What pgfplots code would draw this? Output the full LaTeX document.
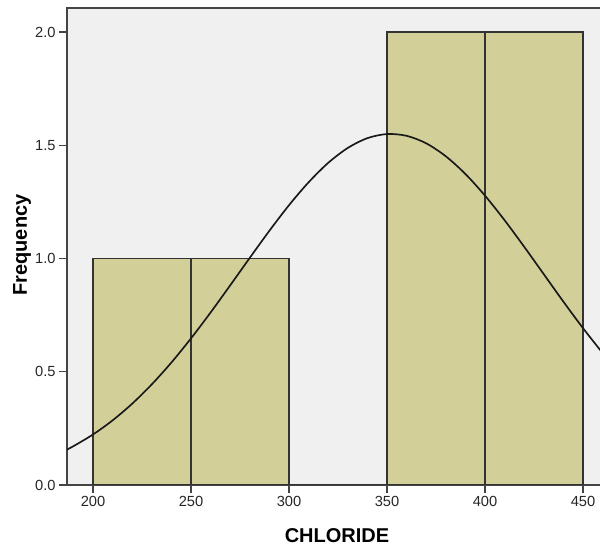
\documentclass[border=0pt]{standalone}
\usepackage{pgfplots}
\pgfplotsset{compat=1.18}
\usepackage{fontspec}
\setmainfont{Liberation Sans}
\definecolor{bgc}{HTML}{F0F0F0}
\definecolor{barc}{HTML}{D3CF99}
\definecolor{axc}{HTML}{444444}
\begin{document}
\begin{tikzpicture}[x=0.75pt,y=0.75pt]
\useasboundingbox (0,0) rectangle (600,546);
\begin{axis}[
  at={(50.25pt,45.75pt)}, anchor=south west,
  scale only axis, width=401.25pt, height=357.75pt,
  xmin=186.7, xmax=459.7, ymin=0, ymax=2.106,
  axis background/.style={fill=bgc},
  axis line style={axc, line width=1pt},
  xtick={200,250,300,350,400,450},
  ytick={0,0.5,1,1.5,2},
  tick pos=left, tick align=outside,
  major tick length=6pt,
  tick style={axc, line width=1pt},
  yticklabel style={/pgf/number format/fixed, /pgf/number format/fixed zerofill, /pgf/number format/precision=1, xshift=1pt},
  /pgf/number format/assume math mode=true,
  ticklabel style={font=\fontsize{11}{13}\selectfont, text=black!85},
  xticklabel style={yshift=1pt},
  clip=true,
]
\addplot[ybar interval, fill=barc, draw=black!80, line width=0.9pt]
  coordinates {(200,1) (250,1) (300,0) (350,2) (400,2) (450,2)};
\addplot[black!90, line width=1.25pt, smooth] coordinates {
(185,0.149) (190,0.1715) (200,0.2232) (210,0.2856) (220,0.3593) (230,0.4447)
(240,0.5411) (250,0.6476) (260,0.7620) (270,0.8818) (280,1.0033) (290,1.1227)
(300,1.2355) (310,1.3367) (320,1.4224) (330,1.4883) (340,1.5314) (350,1.5495)
(360,1.5417) (370,1.5085) (380,1.4513) (390,1.3731) (400,1.2775) (410,1.1689)
(420,1.0517) (430,0.9305) (440,0.8094) (450,0.6925) (460,0.5827)};
\end{axis}
\node[font=\fontsize{15}{18}\selectfont\bfseries] at (337,10.5) {CHLORIDE};
\node[font=\fontsize{15}{18}\selectfont\bfseries, rotate=90] at (22,301) {Frequency};
\end{tikzpicture}
\end{document}
